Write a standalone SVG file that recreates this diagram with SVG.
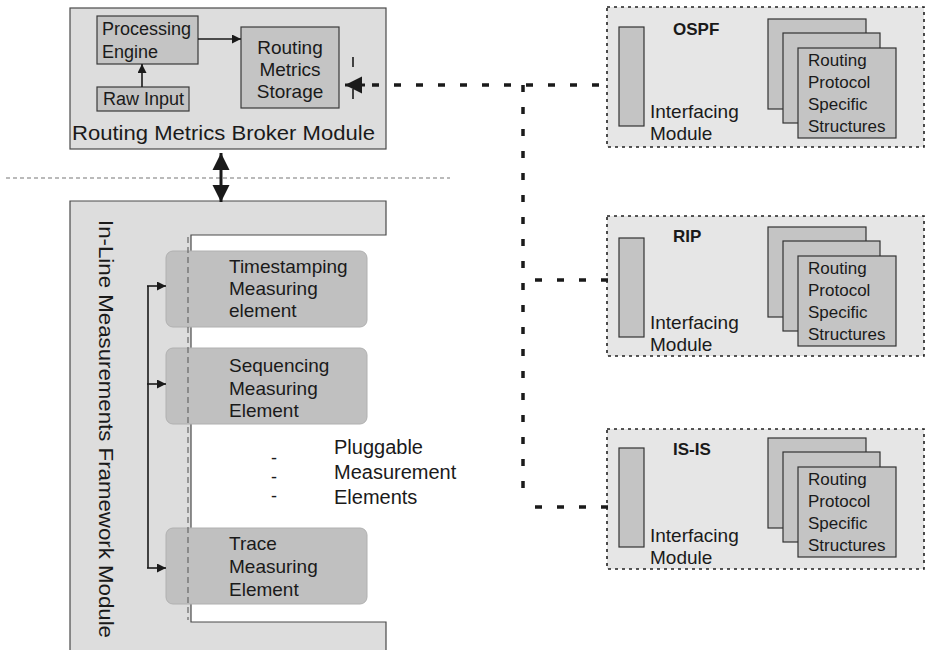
<svg xmlns="http://www.w3.org/2000/svg" width="926" height="650" viewBox="0 0 926 650">
<defs>
<style>
text{font-family:"Liberation Sans",Arial,sans-serif;fill:#1a1a1a}
.t18{font-size:18px}
.t17{font-size:17px}
.t19{font-size:19px}
.ttl{font-size:17px;font-weight:bold}
.box{fill:#c4c4c4;stroke:#3a3a3a;stroke-width:1.2}
.outer{fill:#dddddd;stroke:#4a4a4a;stroke-width:1.2}
.proto{fill:#e6e6e6;stroke:#222;stroke-width:1.6;stroke-dasharray:3 4}
.stk{fill:#c4c4c4;stroke:#333;stroke-width:1.2}
.elem{fill:#c0c0c0;stroke:#b0b0b0;stroke-width:1}
.thin{stroke:#1a1a1a;stroke-width:1.6;fill:none}
.dash{stroke:#1a1a1a;stroke-width:3.5;fill:none;stroke-dasharray:7 15}
</style>
<marker id="ah" viewBox="0 0 10 10" refX="10" refY="5" markerWidth="9" markerHeight="9" markerUnits="userSpaceOnUse" orient="auto">
<path d="M0,0 L10,5 L0,10 z" fill="#1a1a1a"/>
</marker>
<marker id="big" viewBox="0 0 10 10" refX="10" refY="5" markerWidth="17" markerHeight="18" markerUnits="userSpaceOnUse" orient="auto">
<path d="M0,0 L10,5 L0,10 z" fill="#1a1a1a"/>
</marker>
</defs>
<rect width="926" height="650" fill="#ffffff"/>

<!-- separator -->
<line x1="6" y1="178" x2="450" y2="178" stroke="#777" stroke-width="1.2" stroke-dasharray="4 3"/>

<!-- Broker module -->
<g id="broker">
<rect x="70" y="8" width="316" height="141" class="outer"/>
<text x="72" y="140" style="font-size:21px" textLength="303" lengthAdjust="spacingAndGlyphs">Routing Metrics Broker Module</text>
</g>
<g id="processing-engine">
<rect x="97" y="16" width="101" height="48" class="box"/>
<text x="102" y="35" class="t18">Processing</text>
<text x="102" y="58" class="t18">Engine</text>
</g>
<g id="raw-input">
<rect x="97" y="87" width="92" height="24" class="box"/>
<text x="103" y="105" class="t18">Raw Input</text>
</g>
<g id="storage">
<rect x="241" y="27" width="98" height="81" class="box"/>
<text x="290" y="54" class="t19" text-anchor="middle">Routing</text>
<text x="290" y="76" class="t19" text-anchor="middle">Metrics</text>
<text x="290" y="98" class="t19" text-anchor="middle">Storage</text>
<line x1="353" y1="57" x2="353" y2="67" stroke="#1a1a1a" stroke-width="1.6"/>
<line x1="353" y1="89" x2="353" y2="99" stroke="#1a1a1a" stroke-width="1.6"/>
</g>

<!-- Framework module -->
<g id="framework">
<path d="M70,201 H386 V235 H191 V622 H386 V656 H70 Z" class="outer"/>
<text transform="translate(99,220) rotate(90)" style="font-size:21px" textLength="418" lengthAdjust="spacingAndGlyphs">In-Line Measurements Framework Module</text>
</g>
<g id="timestamping">
<rect x="166" y="251" width="201" height="76" rx="7" class="elem"/>
<text x="229" y="273" class="t19">Timestamping</text>
<text x="229" y="295" class="t19">Measuring</text>
<text x="229" y="317" class="t19">element</text>
</g>
<g id="sequencing">
<rect x="166" y="348" width="201" height="76" rx="7" class="elem"/>
<text x="229" y="372" class="t19">Sequencing</text>
<text x="229" y="395" class="t19">Measuring</text>
<text x="229" y="417" class="t19">Element</text>
</g>
<g id="trace">
<rect x="166" y="528" width="201" height="76" rx="7" class="elem"/>
<text x="229" y="550" class="t19">Trace</text>
<text x="229" y="573" class="t19">Measuring</text>
<text x="229" y="596" class="t19">Element</text>
</g>
<line x1="188" y1="237" x2="188" y2="620" stroke="#666" stroke-width="1.2" stroke-dasharray="6 4"/>
<g id="pluggable">
<text x="274" y="464" class="t18" text-anchor="middle">-</text>
<text x="274" y="483" class="t18" text-anchor="middle">-</text>
<text x="274" y="502" class="t18" text-anchor="middle">-</text>
<text x="334" y="454" style="font-size:20px">Pluggable</text>
<text x="334" y="479" style="font-size:20px">Measurement</text>
<text x="334" y="504" style="font-size:20px">Elements</text>
</g>

<!-- Protocol modules -->
<g id="ospf">
<rect x="607" y="7" width="317" height="140" class="proto"/>
<rect x="619" y="27" width="25" height="99" class="stk"/>
<text x="673" y="35" class="ttl">OSPF</text>
<text x="650" y="118" class="t19">Interfacing</text>
<text x="650" y="140" class="t19">Module</text>
<rect x="768" y="19" width="98" height="90" class="stk"/>
<rect x="783" y="33" width="97" height="90" class="stk"/>
<rect x="798" y="48" width="98" height="90" class="stk"/>
<text x="808" y="66" class="t17">Routing</text>
<text x="808" y="88" class="t17">Protocol</text>
<text x="808" y="110" class="t17">Specific</text>
<text x="808" y="132" class="t17">Structures</text>
</g>
<g id="rip" transform="translate(0,209)">
<rect x="607" y="7" width="317" height="140" class="proto"/>
<rect x="619" y="29" width="25" height="99" class="stk"/>
<text x="673" y="33" class="ttl">RIP</text>
<text x="650" y="120" class="t19">Interfacing</text>
<text x="650" y="142" class="t19">Module</text>
<rect x="768" y="18" width="98" height="90" class="stk"/>
<rect x="783" y="32" width="97" height="90" class="stk"/>
<rect x="798" y="47" width="98" height="90" class="stk"/>
<text x="808" y="65" class="t17">Routing</text>
<text x="808" y="87" class="t17">Protocol</text>
<text x="808" y="109" class="t17">Specific</text>
<text x="808" y="131" class="t17">Structures</text>
</g>
<g id="isis" transform="translate(0,422)">
<rect x="607" y="7" width="317" height="140" class="proto"/>
<rect x="619" y="26" width="25" height="99" class="stk"/>
<text x="673" y="33" class="ttl">IS-IS</text>
<text x="650" y="120" class="t19">Interfacing</text>
<text x="650" y="142" class="t19">Module</text>
<rect x="768" y="16" width="98" height="90" class="stk"/>
<rect x="783" y="30" width="97" height="90" class="stk"/>
<rect x="798" y="45" width="98" height="90" class="stk"/>
<text x="808" y="63" class="t17">Routing</text>
<text x="808" y="85" class="t17">Protocol</text>
<text x="808" y="107" class="t17">Specific</text>
<text x="808" y="129" class="t17">Structures</text>
</g>

<!-- Connectors -->
<g id="connectors">
<line x1="142" y1="87" x2="142" y2="64" class="thin" marker-end="url(#ah)"/>
<line x1="198" y1="39" x2="241" y2="39" class="thin" marker-end="url(#ah)"/>
<line x1="221" y1="175" x2="221" y2="153" stroke="#1a1a1a" stroke-width="3" marker-end="url(#big)"/>
<line x1="221" y1="175" x2="221" y2="202" stroke="#1a1a1a" stroke-width="3" marker-end="url(#big)"/>
<line x1="365" y1="85" x2="345" y2="85" stroke="#1a1a1a" stroke-width="3" marker-end="url(#big)"/>
<line x1="372" y1="85" x2="608" y2="85" class="dash"/>
<line x1="523" y1="85" x2="523" y2="500" class="dash"/>
<line x1="608" y1="280" x2="523" y2="280" class="dash"/>
<line x1="608" y1="507" x2="533" y2="507" class="dash"/>
<path d="M148,286 V568" class="thin"/>
<line x1="147" y1="286" x2="166" y2="286" class="thin" marker-end="url(#ah)"/>
<line x1="147" y1="384" x2="166" y2="384" class="thin" marker-end="url(#ah)"/>
<line x1="147" y1="568" x2="166" y2="568" class="thin" marker-end="url(#ah)"/>
</g>
</svg>
